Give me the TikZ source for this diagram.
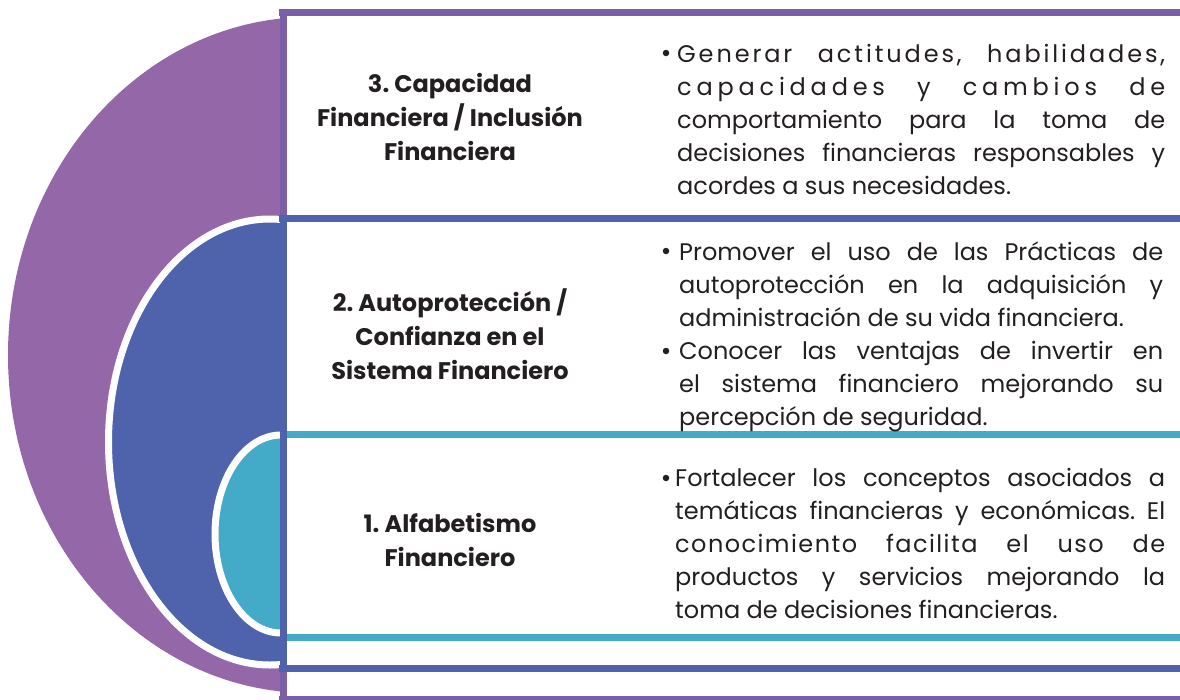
\documentclass[tikz,border=0pt]{standalone}
\usepackage{fontspec}
\setmainfont{Poppins}
\frenchspacing
\definecolor{cpurple}{HTML}{9467A9}
\definecolor{cpurpleline}{HTML}{7B5EA8}
\definecolor{cblue}{HTML}{4F62AC}
\definecolor{cteal}{HTML}{43AAC7}
\definecolor{ctext}{HTML}{231F20}
\begin{document}
\begin{tikzpicture}[x=1pt,y=-1pt,
  title/.style={font=\fontsize{24}{34}\selectfont\bfseries, align=center, text=ctext, inner sep=0pt},
  body/.style={font=\fontsize{24}{33}\selectfont\frenchspacing, text width=488pt, align=justify, anchor=base west, inner sep=0pt, text=ctext},
  bulletdot/.style={circle, fill=ctext, inner sep=0pt, minimum size=6.5pt},
  frameline/.style={line width=7pt},
]
\useasboundingbox (0,0) rectangle (1180,699);
\begin{scope}
  \clip (0,0) rectangle (283,699);
  \fill[cpurple] (310,355) ellipse [x radius=302pt, y radius=338pt];
  \filldraw[fill=cblue, draw=white, line width=7pt] (270,442) ellipse [x radius=161.5pt, y radius=223pt];
  \filldraw[fill=cteal, draw=white, line width=7pt] (281,534) ellipse [x radius=66pt, y radius=99pt];
\end{scope}
% frames
\draw[frameline, cteal] (287,434) -- (1180,434);
\draw[frameline, cteal] (287,637) -- (1180,637);
\draw[frameline, cblue] (279,218.5) -- (1180,218.5);
\draw[frameline, cblue] (279,668.5) -- (1180,668.5);
\draw[frameline, cblue] (283,215) -- (283,672);
\draw[frameline, cpurpleline] (279,12.5) -- (1180,12.5);
\draw[frameline, cpurpleline] (283,9) -- (283,215);
\draw[frameline, cpurpleline] (283,672) -- (283,703);
\draw[frameline, cpurpleline] (279,699.5) -- (1180,699.5);
% titles
\node[title] (t3) at (450,117) {3. Capacidad\\Financiera / Inclusión\\Financiera};
\node[title] (t2) at (450,334) {2. Autoprotección /\\Confianza en el\\Sistema Financiero};
\node[title] (t1) at (450,540) {1. Alfabetismo\\Financiero};
% bodies
\node[bulletdot] (b3) at (666,53) {};
\node[body] (d3) at (677,62) {{\addfontfeature{LetterSpace=12}Generar actitudes, habilidades,}\linebreak
{\addfontfeature{LetterSpace=20}capacidades y cambios de}\linebreak
comportamiento para la toma de\linebreak
decisiones financieras responsables y\linebreak
acordes a sus necesidades.};
\node[bulletdot] (b2a) at (666,251) {};
\node[body, text width=484pt] (d2a) at (679,260) {\parfillskip=0pt Promover el uso de las Prácticas de\linebreak
autoprotección en la adquisición y\linebreak
administración de su vida financiera.};
\node[bulletdot] (b2b) at (666,351) {};
\node[body, text width=484pt] (d2b) at (679,359) {Conocer las ventajas de invertir en\linebreak
el sistema financiero mejorando su\linebreak
percepción de seguridad.};
\node[bulletdot] (b1) at (666,478) {};
\node[body, text width=490pt] (d1) at (675,486) {Fortalecer los conceptos asociados a\linebreak
temáticas financieras y económicas. El\linebreak
{\addfontfeature{LetterSpace=6}conocimiento facilita el uso de}\linebreak
productos y servicios mejorando la\linebreak
toma de decisiones financieras.};
\end{tikzpicture}
\end{document}
